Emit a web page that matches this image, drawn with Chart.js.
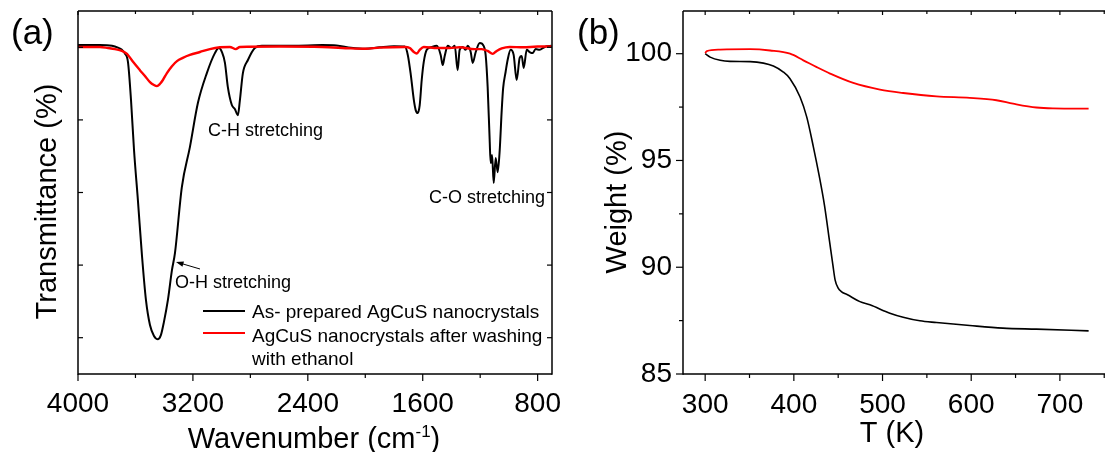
<!DOCTYPE html>
<html><head><meta charset="utf-8">
<script src="https://cdn.jsdelivr.net/npm/chart.js@4.4.1/dist/chart.umd.min.js"></script>
<style>
html,body{margin:0;padding:0;background:#fff;overflow:hidden;width:1105px;height:452px;}
#ca{position:absolute;left:0;top:0;width:570px;height:452px;}
#cb{position:absolute;left:570px;top:0;width:545px;height:452px;}
</style></head><body>
<canvas id="ca" width="570" height="452"></canvas>
<canvas id="cb" width="545" height="452"></canvas>
<script>
const FONT = '"Liberation Sans", Arial, Helvetica, sans-serif';

// ---------- Panel (a): FTIR ----------
const ftirBlackWn = [4000,3850,3763,3722,3694,3673,3652,3631,3610,3583,3555,3527,3499,3471,3443,3423,3402,3374,3346,3325,3277,3221,3165,3103,3047,3019,2998,2977,2957,2929,2908,2887,2873,2852,2817,2769,2720,2600,2400,2300,2200,2100,2000,1900,1800,1725,1704,1683,1662,1649,1635,1621,1607,1593,1572,1537,1503,1475,1461,1447,1426,1398,1377,1357,1343,1322,1301,1287,1266,1252,1231,1203,1176,1162,1148,1134,1127,1117,1106,1092,1078,1064,1050,1040,1023,1009,988,967,946,925,911,897,876,856,835,814,786,751,703];
const ftirBlackT  = [90.6,90.6,90.4,89.9,89.3,88.3,85.9,75.5,61.7,47.9,32.8,20.4,13.5,10.5,9.6,10.7,14.3,20.4,28.6,33.3,51.5,62.5,74.7,82.9,88.4,89.8,88.7,85.7,79.1,74.1,73.0,71.3,75.4,82.9,86.5,89.8,90.4,90.4,90.5,90.6,90.5,89.9,89.6,90.0,90.3,90.2,87.9,82.4,75.5,72.7,71.9,74.1,81.0,85.9,89.3,90.1,90.4,87.9,85.1,87.6,90.4,89.8,90.4,83.7,89.3,90.1,89.3,90.4,88.7,85.7,88.7,91.2,90.4,87.9,79.1,64.5,58.1,60.3,52.6,59.5,55.6,61.7,72.7,78.8,83.2,86.5,89.3,87.9,81.0,87.1,87.6,84.3,89.3,88.7,88.4,89.5,89.3,90.1,90.4];
const ftirRedWn = [4000,3847,3791,3743,3694,3659,3617,3569,3534,3499,3471,3450,3430,3409,3381,3346,3311,3270,3221,3151,3082,3012,2943,2901,2873,2600,2300,2100,2000,1900,1725,1690,1662,1641,1621,1593,1500,1412,1343,1238,1189,1148,1113,1085,1050,995,900,800,703];
const ftirRedT  = [90.1,90.1,89.8,89.5,89.0,88.2,86.0,83.7,82.1,80.4,79.6,79.3,79.9,81.0,82.9,84.8,86.2,87.1,87.9,88.7,89.5,90.0,90.1,89.5,90.1,90.2,90.1,89.7,89.6,89.9,90.1,89.8,88.7,88.3,89.3,90.1,89.8,89.8,90.0,89.5,89.5,89.0,88.2,89.0,89.7,90.1,90.0,90.2,90.2];
const ftirXMajor = [4000,3200,2400,1600,800];
const ftirXMinor = [3600,2800,2000,1200];
const ftirYTicks = [10,30,50,70,90];

// ---------- Panel (b): TGA ----------
const tgaBlackT = [300,305.6,316.9,328,350.7,365.7,376.9,388.2,395.7,407,414.5,422,428.5,434.5,440.5,444,446.5,450,453.5,460.5,474.5,485.8,508.3,523.3,542.1,560.9,598.4,635.6,673.5,732.4];
const tgaBlackW = [100,99.84,99.69,99.64,99.63,99.56,99.42,99.14,98.83,97.97,97.04,95.64,94.3,92.91,91.14,90.11,89.41,89.02,88.86,88.71,88.39,88.24,87.85,87.66,87.49,87.41,87.27,87.15,87.10,87.02];
const tgaRedT = [300,301.9,316.9,350.7,373.2,395.7,410.7,425.8,440.8,467,497.1,523.3,560.9,598.4,628.5,647.2,673.5,692.2,732.4];
const tgaRedW = [100.03,100.12,100.19,100.21,100.15,100.0,99.69,99.37,99.07,98.63,98.32,98.16,98.0,97.93,97.82,97.66,97.48,97.44,97.43];
const tgaXMajor = [300,400,500,600,700];
const tgaXMinor = [350,450,550,650,750];
const tgaYMajor = [85,90,95,100];
const tgaYMinor = [87.5,92.5,97.5];

const legendLabels = ['As- prepared AgCuS nanocrystals', 'AgCuS nanocrystals after washing', 'with ethanol'];

const zip = (xs, ys) => xs.map((x, i) => ({x, y: ys[i]}));

function zeroPad(s) { s.paddingTop = 0; s.paddingBottom = 0; s.paddingLeft = 0; s.paddingRight = 0; }

function decor(cfg) {
  return {
    id: 'decor',
    afterDatasetsDraw(chart) {
      const {ctx, chartArea: a, scales} = chart;
      const xs = scales.x, ys = scales.y;
      ctx.save();
      ctx.strokeStyle = '#000';
      ctx.lineWidth = 1.5;
      const line = (x1, y1, x2, y2) => { ctx.beginPath(); ctx.moveTo(x1, y1); ctx.lineTo(x2, y2); ctx.stroke(); };
      line(a.left, a.top, a.right, a.top);
      line(a.left, a.bottom, a.right, a.bottom);
      line(a.left, a.top, a.left, a.bottom + 0.75);
      if (cfg.rightBorder) line(a.right, a.top, a.right, a.bottom + 0.75);
      ctx.lineWidth = 1.2;
      cfg.xMajor.forEach(v => { const p = xs.getPixelForValue(v); line(p, a.bottom, p, a.bottom + 7); line(p, a.top, p, a.top + 4); });
      cfg.xMinor.forEach(v => { const p = xs.getPixelForValue(v); if (p > a.right) return; line(p, a.bottom, p, a.bottom + 4); line(p, a.top, p, a.top + 3); });
      cfg.yMajor.forEach(v => {
        const p = ys.getPixelForValue(v);
        if (cfg.yInward) { line(a.left, p, a.left + 5, p); line(a.right, p, a.right - 5, p); }
        else line(a.left, p, a.left - 7, p);
      });
      (cfg.yMinor || []).forEach(v => { const p = ys.getPixelForValue(v); line(a.left, p, a.left - 4, p); });
      ctx.restore();
    },
    afterDraw(chart) {
      const ctx = chart.ctx;
      ctx.save();
      ctx.fillStyle = '#000';
      cfg.draw(ctx);
      ctx.restore();
    }
  };
}

function drawRotated(ctx, text, x, y, font) {
  ctx.save();
  ctx.translate(x, y);
  ctx.rotate(-Math.PI / 2);
  ctx.font = font;
  ctx.textAlign = 'center';
  ctx.textBaseline = 'alphabetic';
  ctx.fillText(text, 0, 0);
  ctx.restore();
}

const tickFont = {family: FONT, size: 28};
const plainLabel = v => String(v);

// ----- chart (a)
new Chart(document.getElementById('ca'), {
  type: 'line',
  data: {
    datasets: [
      {data: zip(ftirBlackWn, ftirBlackT), borderColor: '#000', borderWidth: 2, order: 1},
      {data: zip(ftirRedWn, ftirRedT), borderColor: '#ff0000', borderWidth: 2.4, order: 0}
    ]
  },
  options: {
    responsive: false, animation: false, devicePixelRatio: 1,
    layout: {padding: {left: 0, right: 18, top: 11, bottom: 0}},
    elements: {point: {radius: 0}, line: {cubicInterpolationMode: 'monotone'}},
    plugins: {legend: {display: false}, tooltip: {enabled: false}},
    scales: {
      x: {
        type: 'linear', reverse: true, min: 700, max: 4000,
        grid: {display: false, drawTicks: false}, border: {display: false},
        ticks: {font: tickFont, color: '#000', padding: 13, maxRotation: 0, autoSkip: false, callback: plainLabel},
        afterBuildTicks: s => { s.ticks = ftirXMajor.map(v => ({value: v})); },
        afterFit: s => { s.height = 78; zeroPad(s); }
      },
      y: {
        type: 'linear', min: 0, max: 100,
        grid: {display: false, drawTicks: false}, border: {display: false},
        ticks: {display: false},
        afterFit: s => { s.width = 78; zeroPad(s); }
      }
    }
  },
  plugins: [decor({
    rightBorder: true, yInward: true,
    xMajor: ftirXMajor, xMinor: ftirXMinor, yMajor: ftirYTicks,
    draw(ctx) {
      ctx.textBaseline = 'alphabetic';
      ctx.textAlign = 'left';
      ctx.font = '35px ' + FONT;
      ctx.fillText('(a)', 11, 44);
      drawRotated(ctx, 'Transmittance (%)', 56, 201.5, '29px ' + FONT);
      const big = '29px ' + FONT, small = '17px ' + FONT;
      ctx.font = big; const w1 = ctx.measureText('Wavenumber (cm').width; const w3 = ctx.measureText(')').width;
      ctx.font = small; const w2 = ctx.measureText('-1').width;
      let x0 = 314 - (w1 + w2 + w3) / 2;
      ctx.font = big; ctx.fillText('Wavenumber (cm', x0, 448);
      ctx.font = small; ctx.fillText('-1', x0 + w1, 437);
      ctx.font = big; ctx.fillText(')', x0 + w1 + w2, 448);
      ctx.font = '18px ' + FONT;
      ctx.fillText('C-H stretching', 208, 136);
      ctx.fillText('O-H stretching', 175, 288);
      ctx.fillText('C-O stretching', 429, 203);
      ctx.strokeStyle = '#000'; ctx.lineWidth = 1;
      ctx.beginPath(); ctx.moveTo(200, 269); ctx.lineTo(178, 262.5); ctx.stroke();
      const ang = Math.atan2(262.5 - 269, 178 - 200);
      ctx.beginPath();
      ctx.moveTo(176, 262);
      ctx.lineTo(176 - 8 * Math.cos(ang - 0.35), 262 - 8 * Math.sin(ang - 0.35));
      ctx.lineTo(176 - 8 * Math.cos(ang + 0.35), 262 - 8 * Math.sin(ang + 0.35));
      ctx.closePath(); ctx.fill();
      ctx.lineWidth = 2;
      ctx.strokeStyle = '#000'; ctx.beginPath(); ctx.moveTo(203, 311); ctx.lineTo(245, 311); ctx.stroke();
      ctx.strokeStyle = '#ff0000'; ctx.beginPath(); ctx.moveTo(203, 333); ctx.lineTo(245, 333); ctx.stroke();
      ctx.font = '19px ' + FONT;
      ctx.fillText(legendLabels[0], 252, 318);
      ctx.fillText(legendLabels[1], 252, 341.5);
      ctx.fillText(legendLabels[2], 252, 365);
    }
  })]
});

// ----- chart (b)
new Chart(document.getElementById('cb'), {
  type: 'line',
  data: {
    datasets: [
      {data: zip(tgaBlackT, tgaBlackW), borderColor: '#000', borderWidth: 1.6, order: 1},
      {data: zip(tgaRedT, tgaRedW), borderColor: '#ff0000', borderWidth: 1.8, order: 0}
    ]
  },
  options: {
    responsive: false, animation: false, devicePixelRatio: 1,
    layout: {padding: {left: 0, right: 9, top: 11, bottom: 0}},
    elements: {point: {radius: 0}, line: {cubicInterpolationMode: 'monotone'}},
    plugins: {legend: {display: false}, tooltip: {enabled: false}},
    scales: {
      x: {
        type: 'linear', min: 275, max: 752,
        grid: {display: false, drawTicks: false}, border: {display: false},
        ticks: {font: tickFont, color: '#000', padding: 14, maxRotation: 0, autoSkip: false, callback: plainLabel},
        afterBuildTicks: s => { s.ticks = tgaXMajor.map(v => ({value: v})); },
        afterFit: s => { s.height = 78; zeroPad(s); }
      },
      y: {
        type: 'linear', min: 85, max: 102,
        grid: {display: false, drawTicks: false}, border: {display: false},
        ticks: {font: tickFont, color: '#000', padding: 11, autoSkip: false, callback: plainLabel},
        afterBuildTicks: s => { s.ticks = tgaYMajor.map(v => ({value: v})); },
        afterFit: s => { s.width = 113; zeroPad(s); }
      }
    }
  },
  plugins: [decor({
    rightBorder: false, yInward: false,
    xMajor: tgaXMajor, xMinor: tgaXMinor, yMajor: tgaYMajor, yMinor: tgaYMinor,
    draw(ctx) {
      ctx.textBaseline = 'alphabetic';
      ctx.textAlign = 'left';
      ctx.font = '35px ' + FONT;
      ctx.fillText('(b)', 7, 44);
      drawRotated(ctx, 'Weight (%)', 56, 202, '29px ' + FONT);
      ctx.font = '29px ' + FONT;
      ctx.textAlign = 'center';
      ctx.fillText('T (K)', 322, 442);
    }
  })]
});
</script>
</body></html>
